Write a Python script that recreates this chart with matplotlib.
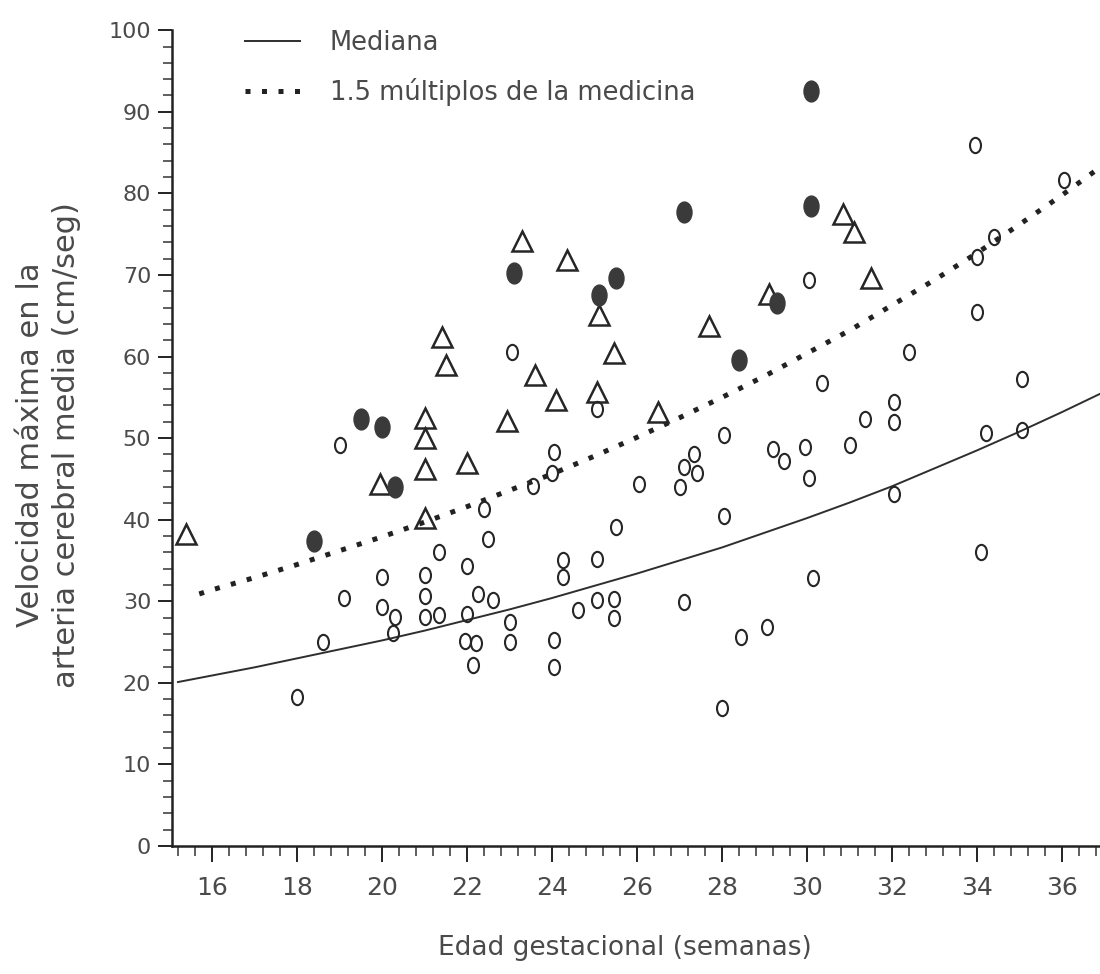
import matplotlib
matplotlib.use('Agg')
import matplotlib.pyplot as plt
from matplotlib.path import Path
from matplotlib.ticker import MultipleLocator

# casos sin complicacion (circulos abiertos)
abiertos_x = [18.0, 18.6, 19.1, 19.0, 20.0, 20.0, 20.3, 20.25, 21.0, 21.0,
              21.0, 21.35, 21.35, 22.0, 22.25, 22.0, 21.95, 22.2, 22.15, 22.6,
              22.4, 22.5, 23.0, 23.0, 23.05, 23.55, 24.05, 24.0, 24.25, 24.25,
              24.05, 24.05, 24.6, 25.05, 25.05, 25.05, 25.45, 25.45, 25.5, 26.05,
              27.35, 27.1, 27.4, 27.0, 27.1, 28.05, 28.05, 28.45, 28.0, 29.05,
              29.2, 29.45, 29.95, 30.05, 30.05, 30.15, 30.35, 31.0, 31.35, 32.05,
              32.05, 32.05, 32.4, 33.95, 34.0, 34.4, 34.0, 34.2, 34.1, 35.05,
              35.05, 36.05]
abiertos_y = [18.3, 25.0, 30.4, 49.1, 33.0, 29.3, 28.1, 26.1, 33.2, 30.6,
              28.1, 28.3, 36.0, 34.3, 30.9, 28.4, 25.1, 24.9, 22.2, 30.1,
              41.3, 37.6, 27.5, 25.0, 60.5, 44.1, 48.3, 45.7, 35.0, 33.0,
              25.2, 22.0, 28.9, 35.2, 30.1, 53.6, 30.3, 27.9, 39.1, 44.4,
              48.1, 46.5, 45.7, 44.0, 29.9, 50.4, 40.4, 25.6, 16.9, 26.9,
              48.7, 47.2, 48.9, 45.1, 69.4, 32.8, 56.7, 49.1, 52.4, 54.4,
              52.0, 43.2, 60.5, 85.9, 72.2, 74.7, 65.5, 50.6, 36.1, 51.0,
              57.3, 81.6]

# circulos llenos
llenos_x = [18.4, 19.5, 20.0, 20.3, 23.1, 25.1, 25.5, 27.1, 28.4, 29.3, 30.1, 30.1]
llenos_y = [37.4, 52.4, 51.4, 44.0, 70.2, 67.5, 69.6, 77.7, 59.6, 66.5, 92.6, 78.5]

# triangulos
triang_x = [15.4, 19.95, 21.0, 21.0, 21.0, 21.0, 21.4, 21.5, 22.0, 22.95,
            23.3, 23.6, 24.1, 24.35, 25.05, 25.1, 25.45, 26.5, 27.7, 29.1,
            30.85, 31.1, 31.5]
triang_y = [38.3, 44.4, 52.5, 50.0, 46.2, 40.2, 62.4, 58.9, 46.9, 52.1,
            74.1, 57.7, 54.7, 71.8, 55.7, 65.1, 60.4, 53.2, 63.8, 67.7,
            77.5, 75.3, 69.6]

# curvas de referencia
mediana_sem = [15.2, 16, 17, 18, 19, 20, 21, 22, 23, 24, 25, 26,
               27, 28, 29, 30, 31, 32, 33, 34, 35, 36, 37]
mediana_vel = [20.1, 20.9, 21.9, 23.0, 24.1, 25.2, 26.4, 27.7, 29.0, 30.4, 31.9, 33.4,
               35.0, 36.6, 38.4, 40.2, 42.1, 44.1, 46.3, 48.5, 50.8, 53.2, 55.7]
mom_sem = [15.7, 16, 17, 18, 19, 20, 21, 22, 23, 24, 25, 26,
           27, 28, 29, 30, 31, 32, 33, 34, 35, 36, 37]
mom_vel = [30.9, 31.4, 32.9, 34.5, 36.2, 37.9, 39.7, 41.6, 43.6, 45.6, 47.8, 50.1,
           52.5, 55.0, 57.6, 60.4, 63.2, 66.3, 69.4, 72.7, 76.2, 79.8, 83.6]

gris = '#4a4a4a'
tinta = '#262626'

circ = Path.unit_circle()
oval = Path(circ.vertices * [0.72, 1.0], circ.codes)

fig = plt.figure(figsize=(11, 9.74), dpi=100)
ax = fig.add_axes([0.1564, 0.1314, 0.8436, 0.8376])

l1, = ax.plot(mediana_sem, mediana_vel, color='#2e2e2e', lw=1.4, zorder=2)
l2, = ax.plot(mom_sem, mom_vel, color='#222222', lw=3.6, linestyle=(0, (1, 2.3)),
              dash_capstyle='butt', zorder=2)

ax.plot(abiertos_x, abiertos_y, linestyle='none', marker=oval, ms=11,
        mfc='none', mec=tinta, mew=1.5, zorder=3)
ax.plot(triang_x, triang_y, linestyle='none', marker='^', ms=15,
        mfc='none', mec=tinta, mew=1.8, zorder=3)
ax.plot(llenos_x, llenos_y, linestyle='none', marker=oval, ms=15,
        mfc='#3a3a3a', mec='#3a3a3a', mew=1, zorder=4)

ax.set_xlim(15.06, 36.89)
ax.set_ylim(0, 100)

ax.spines['top'].set_visible(False)
ax.spines['right'].set_visible(False)
for s in ['left', 'bottom']:
    ax.spines[s].set_linewidth(1.8)
    ax.spines[s].set_color('#222222')

ax.xaxis.set_major_locator(MultipleLocator(2))
ax.xaxis.set_minor_locator(MultipleLocator(0.4))
ax.yaxis.set_major_locator(MultipleLocator(10))
ax.yaxis.set_minor_locator(MultipleLocator(2))

ax.tick_params(axis='x', which='major', length=11.5, width=1.4, pad=10,
               labelsize=18, labelcolor=gris, color='#222222')
ax.tick_params(axis='x', which='minor', length=7, width=1.1, color='#333333')
ax.tick_params(axis='y', which='major', length=10, width=1.4, pad=5,
               labelsize=16, labelcolor=gris, color='#222222')
ax.tick_params(axis='y', which='minor', length=6.5, width=1.1, color='#333333')

fig.text(0.0445, 0.543, 'Velocidad máxima en la\narteria cerebral media (cm/seg)',
         rotation=90, ha='center', va='center', multialignment='center',
         fontsize=22, color=gris, linespacing=1.3)
fig.text(0.568, 0.0267, 'Edad gestacional (semanas)', ha='center', va='center',
         fontsize=19, color=gris)

leg = ax.legend([l1, l2], ['Mediana', '1.5 múltiplos de la medicina'],
                loc='upper left', bbox_to_anchor=(245 / 1100, 1 - 30 / 974),
                bbox_transform=fig.transFigure, frameon=False, borderpad=0,
                borderaxespad=0, handlelength=2.15, handletextpad=1.15,
                labelspacing=0.85, fontsize=18.5)
for t in leg.get_texts():
    t.set_color(gris)

fig.savefig('out.png', dpi=100, facecolor='white')
